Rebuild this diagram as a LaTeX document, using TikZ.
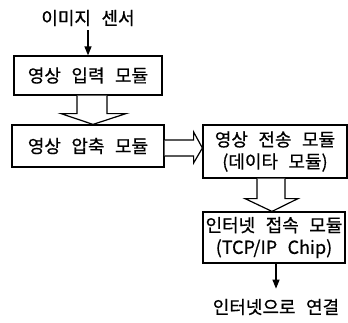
\documentclass[tikz,border=0pt]{standalone}
\usepackage{fontspec}
\setmainfont{Noto Sans CJK KR}[WordSpace=2.6, FakeBold=0.6]
\usetikzlibrary{arrows.meta,calc}
\tikzset{module/.style={draw,
                        rectangle,
                        line width=1.2pt,
                        align=center,
                        inner sep=0pt},
         label/.style={inner sep=2pt},
         hollow/.style={draw, fill=white, line width=1.2pt, line join=miter}}

\begin{document}
\begin{tikzpicture}[x=1pt,y=-1pt,>={Triangle[length=9pt,width=7pt]},
                    font=\fontsize{18pt}{22pt}\selectfont]
    \useasboundingbox (0,0) rectangle (348,322);
    % the modules, top to bottom
    \node [label] (sensor) at (88,18) {이미지 센서};
    \node [module, minimum width=148pt, minimum height=39pt] (in) at (88,75.5) {영상 입력 모듈};
    \node [module, minimum width=152pt, minimum height=42pt] (cmp) at (88,146) {영상 압축 모듈};
    \node [module, minimum width=144pt, minimum height=53pt] (sent) at (275,151.5) {영상 전송 모듈\\(데이타 모듈)};
    \node [module, minimum width=142pt, minimum height=51pt] (net) at (274,237.5) {인터넷 접속 모듈\\(TCP/IP Chip)};
    \node [label] (link) at (276,307) {인터넷으로 연결};
    % thin arrows in and out
    \draw [->, line width=1.2pt, shorten <=2pt] (sensor) -- (in);
    \draw [->, line width=1.2pt] (net.south -| link.north) -- ($(link.north)+(0,-8)$);
    % hollow arrows between the modules
    \draw [hollow] ($(in.south)+(-11,0)$) -- ++(0,18) -- ++(-16,0) -- ($(cmp.north)+(5,0)$)
        -- ($(in.south)+(38,18)$) -- ++(-19,0) -- ($(in.south)+(19,0)$);
    \draw [hollow] ($(cmp.east)+(0,-6)$) -- ++(29,0) -- ++(0,-8) -- ($(sent.west)+(0,-3.5)$)
        -- ($(cmp.east)+(29,17)$) -- ++(0,-7) -- ($(cmp.east)+(0,10)$);
    \draw [hollow] ($(sent.south)+(-18,0)$) -- ++(0,20) -- ++(-12,0) -- ($(net.north)+(-2,0)$)
        -- ($(sent.south)+(23,20)$) -- ++(-13,0) -- ($(sent.south)+(10,0)$);
\end{tikzpicture}
\end{document}
